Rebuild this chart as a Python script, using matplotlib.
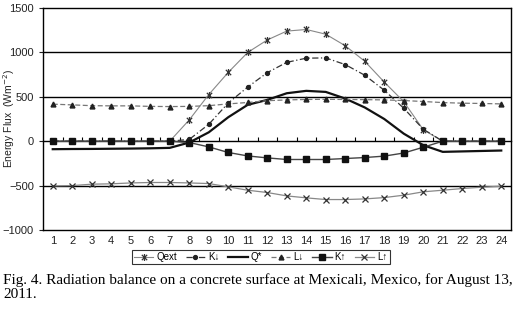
import numpy as np
import matplotlib
matplotlib.use("Agg")
import matplotlib.pyplot as plt
from matplotlib.path import Path

# hours of the day
hours = list(range(1, 25))

# radiation components (W m-2)
qext = [0, 0, 0, 0, 0, 0, 0, 240, 525, 775, 1000, 1140,
        1240, 1258, 1205, 1075, 900, 666, 445, 130, 0, 0, 0, 0]
k_down = [0, 0, 0, 0, 0, 0, 0, 20, 190, 430, 610, 772,
          888, 935, 938, 863, 743, 574, 371, 135, 0, 0, 0, 0]
q_star = [-90, -88, -87, -85, -83, -80, -75, -15, 100, 270, 410, 465,
          540, 567, 555, 480, 380, 250, 85, -45, -120, -115, -110, -105]
l_down = [417, 409, 400, 398, 398, 392, 390, 392, 400, 420, 436, 456,
          465, 470, 472, 470, 468, 465, 458, 447, 435, 428, 425, 420]
k_up = [0, 0, 0, 0, 0, 0, 0, -15, -64, -127, -166, -188,
        -206, -206, -206, -195, -184, -168, -133, -68, 0, 0, 0, 0]
l_up = [-503, -500, -484, -480, -470, -465, -465, -470, -477, -514, -552, -578,
        -616, -638, -657, -657, -650, -635, -608, -570, -552, -533, -518, -507]

labels = ["Qext", "K↓", "Q*", "L↓", "K↑", "L↑"]
y_ticks = [1500, 1000, 500, 0, -500, -1000]

plt.rcParams['font.family'] = ['Liberation Sans', 'DejaVu Sans']

# Excel style star marker: an X with a vertical bar
star = Path([(-1, -1), (1, 1), (-1, 1), (1, -1), (0, -1.3), (0, 1.3)],
            [Path.MOVETO, Path.LINETO, Path.MOVETO, Path.LINETO, Path.MOVETO, Path.LINETO])

fig = plt.figure(figsize=(5.16, 3.13), dpi=100)
ax = fig.add_axes([43 / 516, 83 / 313, 468 / 516, 222 / 313])

ax.plot(hours, qext, color='#888888', lw=0.8, marker=star, ms=5,
        mec='#333333', mew=0.9, label=labels[0])
ax.plot(hours, k_down, color='#333333', lw=0.9, ls=(0, (5, 2, 1, 2)), marker='o', ms=2.8,
        mfc='#222222', mec='#222222', label=labels[1])
ax.plot(hours, q_star, color='#111111', lw=1.6, label=labels[2])
ax.plot(hours, l_down, color='#777777', lw=0.9, ls=(0, (4, 2)), marker='^', ms=3.5,
        mfc='#222222', mec='#222222', label=labels[3])
ax.plot(hours, k_up, color='#444444', lw=1.0, marker='s', ms=4.2,
        mfc='#111111', mec='#111111', label=labels[4])
ax.plot(hours, l_up, color='#888888', lw=0.9, marker='x', ms=4.5,
        mec='#333333', mew=0.9, label=labels[5])

# axes ranges
ax.set_xlim(0.5, 24.5)
ax.set_ylim(-1000, 1500)
ax.set_yticks(y_ticks)
ax.set_xticks(hours)

# horizontal grid lines
for v in [1000, 500, -500]:
    ax.axhline(v, color='black', lw=1.0, zorder=0)

# category axis on the zero line with boundary ticks
zero_ax = ax.secondary_xaxis((0 - (-1000)) / 2500)
zero_ax.set_xticks(np.arange(1.5, 24.5, 1))
zero_ax.tick_params(axis='x', direction='in', length=3, width=0.8, labelbottom=False)
zero_ax.spines['bottom'].set_linewidth(1.0)

ax.tick_params(axis='x', length=0, labelsize=8, pad=4, colors='#222222')
ax.tick_params(axis='y', length=3, width=0.8, labelsize=8, colors='#222222')
for spine in ax.spines.values():
    spine.set_linewidth(1.0)
    spine.set_color('black')

ax.set_ylabel('Energy Flux  (Wm$^{-2}$)', fontsize=7.5, color='#222222')
ax.yaxis.set_label_coords(-0.056, 0.5)

leg = ax.legend(loc='upper center', bbox_to_anchor=(0.465, -0.088), ncol=6, fontsize=7,
                frameon=True, fancybox=False, edgecolor='black', handlelength=2.0,
                handletextpad=0.3, columnspacing=0.9, borderpad=0.25, borderaxespad=0)
leg.get_frame().set_linewidth(0.8)

# figure caption
fig.text(0.006, (313 - 273) / 313,
         "Fig. 4. Radiation balance on a concrete surface at Mexicali, Mexico, for August 13,\n2011.",
         fontsize=11, family='Liberation Serif', va='top', ha='left', linespacing=1.15)

fig.savefig('out.png', dpi=100)
